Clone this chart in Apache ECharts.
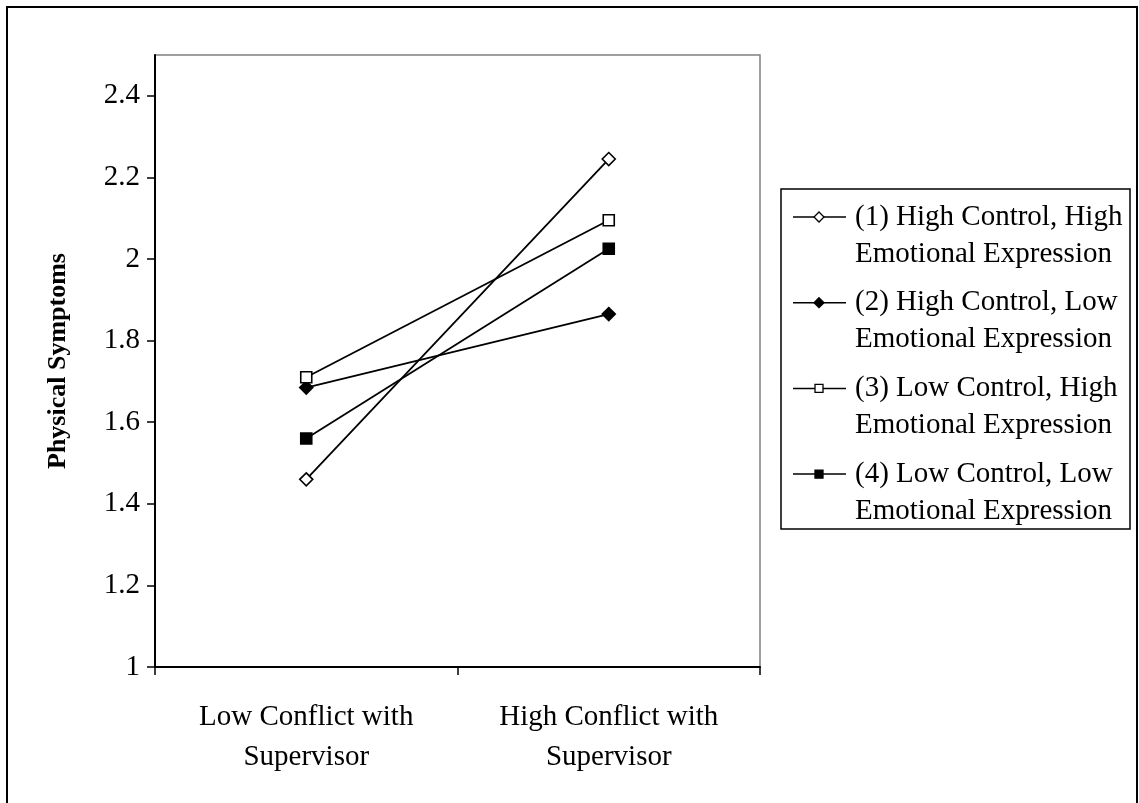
<!DOCTYPE html>
<html>
<head>
<meta charset="utf-8">
<script src="https://cdn.jsdelivr.net/npm/echarts@6/dist/echarts.min.js"></script>
<style>
html,body{margin:0;padding:0;background:#fff;}
#chart{width:1139px;height:803px;}
</style>
</head>
<body>
<div id="chart"></div>
<script>
var categories = ['Low Conflict with\nSupervisor', 'High Conflict with\nSupervisor'];
var seriesNames = [
  '(1) High Control, High\nEmotional Expression',
  '(2) High Control, Low\nEmotional Expression',
  '(3) Low Control, High\nEmotional Expression',
  '(4) Low Control, Low\nEmotional Expression'
];
var s1 = [1.46, 2.245];
var s2 = [1.685, 1.865];
var s3 = [1.71, 2.095];
var s4 = [1.56, 2.025];
var seriesValues = [s1, s2, s3, s4];
var yTicks = [1, 1.2, 1.4, 1.6, 1.8, 2, 2.2, 2.4];

var FONT = "'Liberation Serif', 'Times New Roman', serif";
var markerStyles = [
  {symbol: 'diamond', size: 13, fill: '#fff'},
  {symbol: 'diamond', size: 13, fill: '#000'},
  {symbol: 'rect', size: 11, fill: '#fff'},
  {symbol: 'rect', size: 11, fill: '#000'}
];

var series = seriesValues.map(function (vals, i) {
  var m = markerStyles[i];
  return {
    name: seriesNames[i],
    type: 'line',
    data: vals,
    symbol: m.symbol,
    symbolSize: m.size,
    showAllSymbol: true,
    lineStyle: {color: '#000', width: 1.8},
    itemStyle: {color: m.fill, borderColor: '#000', borderWidth: 1.6},
    emphasis: {disabled: true},
    z: 3 + i
  };
});

// legend built from series names and marker styles
var legendLeft = 781, legendTop = 189, legendRight = 1130, legendBottom = 529;
var legendElems = [{
  type: 'rect',
  shape: {x: legendLeft, y: legendTop, width: legendRight - legendLeft, height: legendBottom - legendTop},
  style: {fill: '#fff', stroke: '#000', lineWidth: 1.5}
}];
var rowStart = 217, rowStep = 85.7;
seriesNames.forEach(function (name, i) {
  var y = rowStart + i * rowStep;
  var m = markerStyles[i];
  legendElems.push({
    type: 'line',
    shape: {x1: 793, y1: y, x2: 846, y2: y},
    style: {stroke: '#000', lineWidth: 1.5}
  });
  if (m.symbol === 'diamond') {
    var r = 5;
    legendElems.push({
      type: 'polygon',
      shape: {points: [[819, y - r], [819 + r, y], [819, y + r], [819 - r, y]]},
      style: {fill: m.fill, stroke: '#000', lineWidth: 1.3}
    });
  } else {
    var h = 4;
    legendElems.push({
      type: 'rect',
      shape: {x: 819 - h, y: y - h, width: 2 * h, height: 2 * h},
      style: {fill: m.fill, stroke: '#000', lineWidth: 1.3}
    });
  }
  legendElems.push({
    type: 'text',
    style: {
      text: name, x: 855, y: y - 18.5,
      font: '29px ' + FONT, lineHeight: 37,
      verticalAlign: 'top', align: 'left', fill: '#000'
    }
  });
});

var chart = echarts.init(document.getElementById('chart'));
chart.setOption({
  animation: false,
  backgroundColor: '#fff',
  grid: {
    left: 155, right: 379, top: 55, bottom: 136,
    show: true, borderColor: '#808080', borderWidth: 1.5, backgroundColor: 'transparent'
  },
  xAxis: {
    type: 'category',
    data: categories,
    boundaryGap: true,
    axisLine: {lineStyle: {color: '#000', width: 2}},
    axisTick: {show: true, inside: false, length: 8, alignWithLabel: false, lineStyle: {color: '#000', width: 1.5}},
    axisLabel: {color: '#000', fontFamily: FONT, fontSize: 29, lineHeight: 40, margin: 30, interval: 0},
    splitLine: {show: false}
  },
  yAxis: {
    type: 'value',
    min: 1, max: 2.5, interval: 0.2,
    name: 'Physical Symptoms',
    nameLocation: 'middle',
    nameRotate: 90,
    nameGap: 84,
    nameTextStyle: {color: '#000', fontFamily: FONT, fontSize: 26, fontWeight: 'bold'},
    axisLine: {show: true, lineStyle: {color: '#000', width: 2}},
    axisTick: {show: true, inside: false, length: 8, lineStyle: {color: '#000', width: 1.5}},
    axisLabel: {
      color: '#000', fontFamily: FONT, fontSize: 29, margin: 15, showMaxLabel: false,
      formatter: function (v) {
        var t = Math.round(v * 10) / 10;
        return yTicks.indexOf(t) >= 0 ? String(t) : '';
      }
    },
    splitLine: {show: false}
  },
  series: series,
  graphic: [{
    type: 'rect',
    shape: {x: 7, y: 7, width: 1130, height: 800},
    style: {fill: 'none', stroke: '#000', lineWidth: 2},
    z: 100
  }].concat(legendElems)
});
</script>
</body>
</html>
